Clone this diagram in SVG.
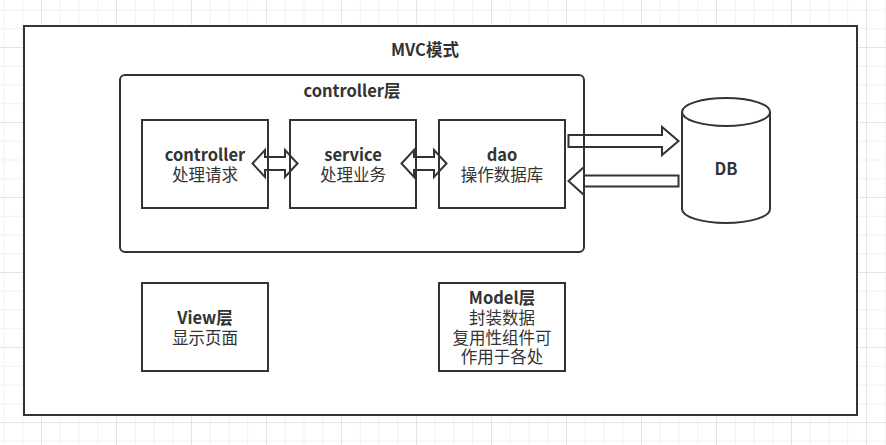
<svg xmlns="http://www.w3.org/2000/svg" width="886" height="445" viewBox="0 0 886 445">
<defs>
<style>
.box{fill:#fff;stroke:#333;stroke-width:2}
.arr{fill:none;stroke:#333;stroke-width:2;stroke-linejoin:miter}
text{font-family:"Noto Sans CJK SC","Noto Sans",sans-serif;font-size:16.5px;fill:#333;text-anchor:middle;dominant-baseline:central}
.b{font-weight:bold}
</style>
<pattern id="grid" x="41" y="47" width="75" height="75" patternUnits="userSpaceOnUse">
<path d="M19.25,0V75M38,0V75M56.75,0V75M0,19.25H75M0,38H75M0,56.75H75" stroke="#f1f1f1" stroke-width="1" fill="none"/>
<path d="M0.5,0V75M0,0.5H75" stroke="#e4e4e4" stroke-width="1" fill="none"/>
</pattern>
</defs>
<rect width="886" height="445" fill="#fff"/>
<rect width="886" height="445" fill="url(#grid)"/>

<g id="mvc">
<rect class="box" x="24" y="26" width="833" height="389"/>
<text class="b" x="425" y="49">MVC模式</text>
</g>

<g id="controller-layer">
<rect class="box" x="120" y="75" width="464" height="177" rx="5"/>
<text class="b" x="352" y="90">controller层</text>
</g>

<g id="controller">
<rect class="box" x="142" y="120" width="126" height="88"/>
<text class="b" x="205" y="154">controller</text>
<text x="205" y="174">处理请求</text>
</g>

<g id="service">
<rect class="box" x="290" y="120" width="126" height="88"/>
<text class="b" x="353" y="154">service</text>
<text x="353" y="174">处理业务</text>
</g>

<g id="dao">
<rect class="box" x="439" y="120" width="126" height="88"/>
<text class="b" x="502" y="154">dao</text>
<text x="502" y="174">操作数据库</text>
</g>

<g id="db">
<path class="box" d="M682,112 A44,14 0 0 1 770,112 L770,209 A44,14 0 0 1 682,209 Z"/>
<path class="box" fill="none" d="M682,112 A44,14 0 0 0 770,112"/>
<text class="b" x="726" y="168">DB</text>
</g>

<g id="view">
<rect class="box" x="142" y="283" width="126" height="88"/>
<text class="b" x="205" y="317">View层</text>
<text x="205" y="337">显示页面</text>
</g>

<g id="model">
<rect class="box" x="439" y="283" width="126" height="88"/>
<text class="b" x="502" y="297">Model层</text>
<text x="502" y="317">封装数据</text>
<text x="502" y="337">复用性组件可</text>
<text x="502" y="356">作用于各处</text>
</g>

<g id="connectors">
<path class="arr" d="M252.5,163.5 L265,150 L265,157 L285,157 L285,150 L297.5,163.5 L285,177 L285,170 L265,170 L265,177 Z"/>
<path class="arr" d="M401.5,163.5 L414,150 L414,157 L434,157 L434,150 L446.5,163.5 L434,177 L434,170 L414,170 L414,177 Z"/>
<path class="arr" d="M568.5,135 L662,135 L662,127 L678.5,141 L662,155 L662,147 L568.5,147 Z"/>
<path class="arr" d="M568.5,181 L584,167 L584,175.5 L678.5,175.5 L678.5,186.5 L584,186.5 L584,195 Z"/>
</g>
</svg>
